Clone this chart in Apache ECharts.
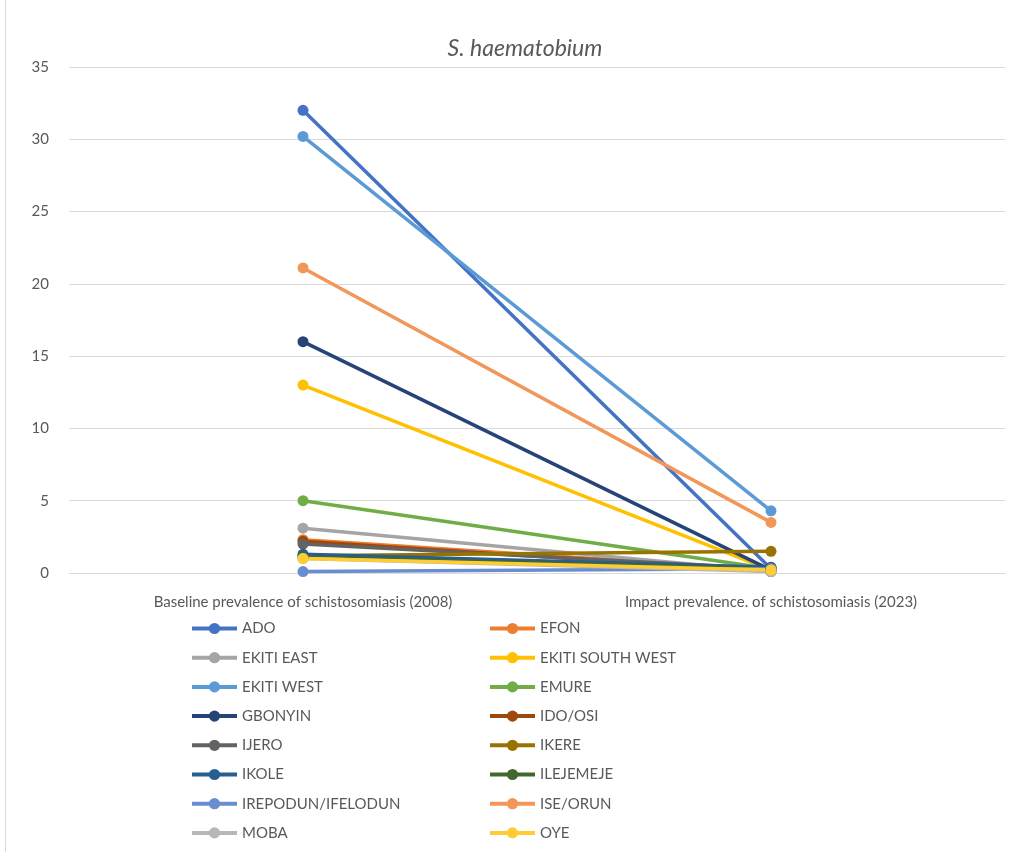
<!DOCTYPE html>
<html><head><meta charset="utf-8">
<script src="https://cdn.jsdelivr.net/npm/echarts@6/dist/echarts.min.js"></script>
<style>html,body{margin:0;padding:0;background:#fff}#c{width:1022px;height:852px}</style>
</head><body><div id="c"></div>
<script>
const categories = ['Baseline prevalence of schistosomiasis (2008)', 'Impact prevalence. of schistosomiasis (2023)'];
const yTicks = [0, 5, 10, 15, 20, 25, 30, 35];
const names = ['ADO','EFON','EKITI EAST','EKITI SOUTH WEST','EKITI WEST','EMURE','GBONYIN','IDO/OSI','IJERO','IKERE','IKOLE','ILEJEMEJE','IREPODUN/IFELODUN','ISE/ORUN','MOBA','OYE'];
const colors = ['#4472C4','#ED7D31','#A5A5A5','#FFC000','#5B9BD5','#70AD47','#264478','#9E480E','#636363','#997300','#255E91','#43682B','#698ED0','#F1975A','#B7B7B7','#FFCD33'];
const baseline = [32.0, 2.3, 3.1, 13.0, 30.2, 5.0, 16.0, 2.2, 2.0, 1.2, 1.3, 1.1, 0.1, 21.1, 1.0, 1.0];
const impact   = [0.3, 0.2, 0.1, 0.2, 4.3, 0.3, 0.2, 0.1, 0.3, 1.5, 0.4, 0.3, 0.3, 3.5, 0.1, 0.2];

const font = 'Lato, "Open Sans", sans-serif';
const series = names.map((n, i) => ({
  name: n, type: 'line', data: [baseline[i], impact[i]],
  symbol: 'circle', symbolSize: 11, lineStyle: {width: 3.5, color: colors[i]},
  itemStyle: {color: colors[i]}, emphasis: {disabled: true}
}));
const leftNames = names.filter((_, i) => i % 2 === 0);
const rightNames = names.filter((_, i) => i % 2 === 1);
const legendCommon = {
  orient: 'vertical', top: 621, height: 260, itemWidth: 45, itemHeight: 14, itemGap: 15.1 - 0.9,
  padding: 0, lineStyle: {width: 4},
  textStyle: {color: '#595959', fontSize: 15, fontFamily: font, lineHeight: 14}
};
const chart = echarts.init(document.getElementById('c'));
chart.setOption({
  animation: false,
  color: colors,
  title: {text: 'S. haematobium', left: 520, textAlign: 'center', top: 32,
    textStyle: {fontStyle: 'italic', fontWeight: 'normal', fontSize: 23, color: '#595959', fontFamily: font}},
  grid: {left: 69, right: 17, top: 67, bottom: 279},
  xAxis: {type: 'category', data: categories, boundaryGap: true,
    axisLine: {lineStyle: {color: '#d9d9d9'}}, axisTick: {show: false},
    axisLabel: {color: '#595959', fontSize: 15, fontFamily: font, margin: 22}},
  yAxis: {type: 'value', min: yTicks[0], max: yTicks[yTicks.length-1], interval: 5,
    axisLine: {show: false}, axisTick: {show: false},
    splitLine: {lineStyle: {color: '#d9d9d9'}},
    axisLabel: {color: '#595959', fontSize: 15, fontFamily: font, margin: 20}},
  legend: [
    Object.assign({left: 190, data: leftNames}, legendCommon),
    Object.assign({left: 488, data: rightNames}, legendCommon)
  ],
  graphic: [{type: 'line', shape: {x1: 5.5, y1: 0, x2: 5.5, y2: 852}, style: {stroke: '#d9d9d9', lineWidth: 1}}],
  series: series
});
</script></body></html>
